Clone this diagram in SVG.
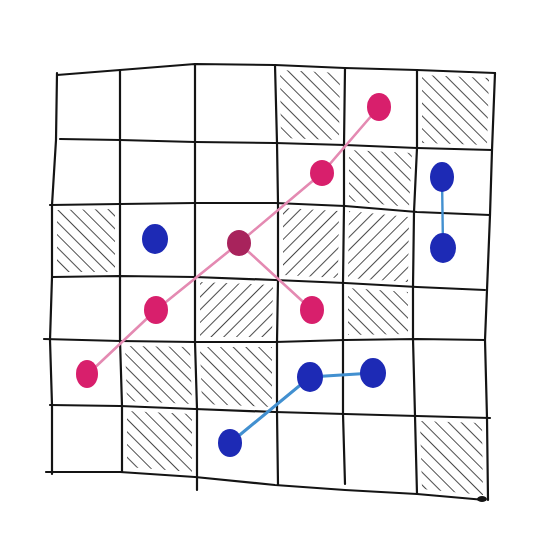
<svg xmlns="http://www.w3.org/2000/svg" width="544" height="544" viewBox="0 0 544 544">
<style>
.grid{fill:none;stroke:#141414;stroke-width:2.2;stroke-linecap:round;stroke-linejoin:round}
.hb{fill:url(#hatchB)}
.hf{fill:url(#hatchF)}
.pinkline{fill:none;stroke:#e48ab2;stroke-width:2.6;stroke-linecap:round}
.blueline{fill:none;stroke:#4290d0;stroke-width:3.2;stroke-linecap:round}
.pink{fill:#d81f6c}
.pinkdark{fill:#a8235c}
.blue{fill:#1d2ab5}
</style>
<defs>
<pattern id="hatchB" patternUnits="userSpaceOnUse" width="9" height="9" patternTransform="rotate(-45)">
<line x1="0" y1="-2" x2="0" y2="11" stroke="#1e1e1e" stroke-width="1.6"/>
</pattern>
<pattern id="hatchF" patternUnits="userSpaceOnUse" width="9" height="9" patternTransform="rotate(45)">
<line x1="0" y1="-2" x2="0" y2="11" stroke="#1e1e1e" stroke-width="1.6"/>
</pattern>
</defs>
<rect width="544" height="544" fill="#ffffff"/>
<g id="hatching">
<polygon class="hb" points="280,70 340,73 339,140 281,138"/>
<polygon class="hb" points="422,75 489,78 487,145 422,143"/>
<polygon class="hb" points="349,150 412,153 409,207 349,201"/>
<polygon class="hb" points="57,210 115,209 115,272 57,272"/>
<polygon class="hf" points="283,208 339,211 338,278 283,275"/>
<polygon class="hf" points="349,211 409,217 408,282 348,278"/>
<polygon class="hf" points="200,282 273,285 272,337 200,337"/>
<polygon class="hb" points="348,288 408,292 408,334 348,335"/>
<polygon class="hb" points="125,346 190,347 192,404 127,401"/>
<polygon class="hb" points="200,347 272,347 272,407 202,404"/>
<polygon class="hb" points="127,411 192,414 192,472 127,467"/>
<polygon class="hb" points="420,421 482,423 483,495 422,489"/>
</g>
<g id="grid">
<polyline class="grid" points="57,75 120,70 195,64 275,65 345,68 417,70 495,73"/>
<polyline class="grid" points="60,139 120,140 195,142 275,143 345,145 417,148 492,150"/>
<polyline class="grid" points="50,205 120,204 195,203 275,203 345,206 417,212 490,215"/>
<polyline class="grid" points="52,277 120,276 195,277 275,280 345,283 417,287 485,290"/>
<polyline class="grid" points="44,339 120,341 195,342 275,342 345,340 417,339 485,340"/>
<polyline class="grid" points="50,405 120,406 195,409 275,412 345,414 417,416 490,418"/>
<polyline class="grid" points="46,472 120,472 195,477 275,485 345,490 417,494 485,500"/>
<polyline class="grid" points="57,73 56,140 52,205 52,277 50,340 52,405 52,474"/>
<polyline class="grid" points="120,70 120,140 120,205 120,277 120,340 122,406 122,472"/>
<polyline class="grid" points="195,64 195,142 195,203 195,277 195,342 197,409 197,490"/>
<polyline class="grid" points="275,65 277,143 278,203 278,280 277,342 277,412 278,485"/>
<polyline class="grid" points="345,68 344,145 344,206 343,283 343,340 343,414 345,484"/>
<polyline class="grid" points="417,70 417,148 414,212 413,287 413,339 415,416 417,494"/>
<polyline class="grid" points="495,73 492,150 490,215 487,290 485,340 487,418 488,500"/>
<ellipse cx="482" cy="499" rx="5" ry="3" fill="#141414"/>
</g>
<g id="connectors">
<polyline class="pinkline" points="88,374 156,310 239,243 322,173 379,107"/>
<line class="pinkline" x1="239" y1="243" x2="312" y2="310"/>
<line class="blueline" x1="442" y1="177" x2="443" y2="248" style="stroke-width:2.4"/>
<polyline class="blueline" points="230,443 310,377 373,373"/>
</g>
<g id="p1"><ellipse class="pink" cx="379" cy="107" rx="12" ry="14"/></g>
<g id="p2"><ellipse class="pink" cx="322" cy="173" rx="12" ry="13"/></g>
<g id="p3"><ellipse class="pinkdark" cx="239" cy="243" rx="12" ry="13"/></g>
<g id="p4"><ellipse class="pink" cx="156" cy="310" rx="12" ry="14"/></g>
<g id="p5"><ellipse class="pink" cx="312" cy="310" rx="12" ry="14"/></g>
<g id="p6"><ellipse class="pink" cx="87" cy="374" rx="11" ry="14"/></g>
<g id="b1"><ellipse class="blue" cx="155" cy="239" rx="13" ry="15"/></g>
<g id="b2"><ellipse class="blue" cx="442" cy="177" rx="12" ry="15"/></g>
<g id="b3"><ellipse class="blue" cx="443" cy="248" rx="13" ry="15"/></g>
<g id="b4"><ellipse class="blue" cx="310" cy="377" rx="13" ry="15"/></g>
<g id="b5"><ellipse class="blue" cx="373" cy="373" rx="13" ry="15"/></g>
<g id="b6"><ellipse class="blue" cx="230" cy="443" rx="12" ry="14"/></g>
</svg>
